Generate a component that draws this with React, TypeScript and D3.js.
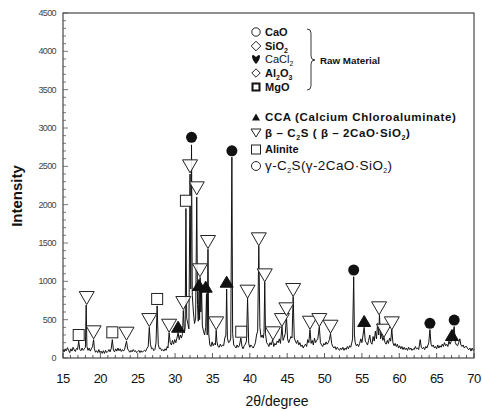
import React from "react";
import * as d3 from "d3";

// XRD pattern: [2θ, intensity]
const spectrum: [number, number][] = [
  [15.0,110],[15.15,80],[15.3,120],[15.45,95],[15.6,135],[15.75,100],[15.9,70],[16.05,120],[16.2,90],[16.35,140],[16.5,105],[16.65,85],[16.8,125],[16.95,110],[17.1,220],[17.25,110],[17.4,95],[17.55,130],[17.7,100],[17.85,120],[18.0,140],[18.1,690],[18.2,150],[18.35,100],[18.5,130],[18.65,90],[18.8,120],[18.95,150],[19.1,240],[19.2,120],[19.35,75],[19.5,95],[19.65,70],[19.8,110],[19.95,70],[20.1,90],[20.25,60],[20.4,95],[20.55,60],[20.7,100],[20.85,70],[21.0,85],[21.15,110],[21.3,80],[21.45,120],[21.6,240],[21.75,100],[21.9,80],[22.05,120],[22.2,90],[22.35,130],[22.5,95],[22.65,120],[22.8,85],[22.95,110],[23.1,90],[23.25,115],[23.5,220],[23.65,120],[23.8,95],[23.95,75],[24.1,100],[24.25,80],[24.4,110],[24.55,85],[24.7,95],[24.85,70],[25.0,85],[25.15,100],[25.3,70],[25.45,95],[25.6,75],[25.75,90],[25.9,100],[26.05,85],[26.2,120],[26.4,150],[26.55,400],[26.7,180],[26.85,120],[27.0,130],[27.15,95],[27.3,110],[27.45,200],[27.6,680],[27.75,180],[27.9,120],[28.05,130],[28.2,95],[28.35,110],[28.5,90],[28.65,120],[28.8,100],[28.95,150],[29.05,130],[29.2,330],[29.35,200],[29.5,170],[29.65,230],[29.8,180],[29.95,240],[30.1,200],[30.25,260],[30.4,330],[30.55,240],[30.7,300],[30.85,260],[31.0,320],[31.1,620],[31.25,330],[31.35,400],[31.45,1950],[31.55,520],[31.7,450],[31.85,380],[32.0,2400],[32.1,900],[32.2,2780],[32.3,820],[32.45,600],[32.6,450],[32.75,520],[32.9,2100],[33.0,700],[33.1,480],[33.2,870],[33.28,500],[33.35,1050],[33.45,600],[33.55,880],[33.65,420],[33.8,350],[33.95,300],[34.1,400],[34.2,840],[34.3,300],[34.4,1420],[34.5,320],[34.65,170],[34.8,150],[34.95,210],[35.1,160],[35.25,190],[35.4,170],[35.5,360],[35.6,210],[35.75,150],[35.9,140],[36.05,180],[36.2,150],[36.35,170],[36.5,160],[36.65,260],[36.8,300],[36.9,900],[37.0,260],[37.15,200],[37.3,210],[37.45,260],[37.6,2620],[37.7,320],[37.85,170],[38.0,150],[38.15,130],[38.3,170],[38.45,140],[38.6,160],[38.8,260],[38.95,150],[39.1,120],[39.25,160],[39.4,180],[39.55,220],[39.7,780],[39.85,190],[40.0,140],[40.15,170],[40.3,150],[40.45,130],[40.6,160],[40.75,200],[40.9,300],[41.05,350],[41.2,1460],[41.35,400],[41.5,270],[41.65,300],[41.8,260],[41.9,330],[42.0,990],[42.1,320],[42.25,200],[42.4,180],[42.55,150],[42.7,200],[42.85,170],[43.06,240],[43.2,150],[43.35,190],[43.5,170],[43.65,220],[43.8,200],[43.95,250],[44.1,190],[44.3,410],[44.45,230],[44.6,270],[44.75,320],[44.9,550],[45.05,250],[45.2,200],[45.35,240],[45.5,280],[45.65,260],[45.8,800],[45.95,260],[46.1,220],[46.25,190],[46.4,230],[46.55,170],[46.7,200],[46.85,150],[47.0,170],[47.15,130],[47.3,160],[47.45,180],[47.6,150],[47.75,240],[47.9,200],[48.05,370],[48.2,190],[48.35,230],[48.5,170],[48.65,260],[48.8,200],[48.95,230],[49.1,250],[49.3,410],[49.45,200],[49.6,170],[49.75,150],[49.9,190],[50.05,170],[50.2,210],[50.35,180],[50.5,200],[50.65,240],[50.8,320],[50.95,190],[51.1,150],[51.25,130],[51.4,150],[51.55,110],[51.7,140],[51.85,120],[52.0,100],[52.15,130],[52.3,110],[52.45,140],[52.6,100],[52.75,130],[52.9,110],[53.05,150],[53.2,120],[53.35,160],[53.5,140],[53.65,200],[53.75,250],[53.9,1060],[54.0,300],[54.1,200],[54.25,160],[54.4,180],[54.55,150],[54.7,190],[54.85,250],[55.0,200],[55.15,300],[55.3,400],[55.45,220],[55.6,200],[55.75,170],[55.9,230],[56.05,300],[56.2,200],[56.35,180],[56.5,280],[56.65,220],[56.8,350],[56.95,250],[57.1,450],[57.25,300],[57.35,560],[57.5,250],[57.65,320],[57.8,230],[57.95,270],[58.1,200],[58.25,180],[58.4,230],[58.55,190],[58.7,260],[58.85,220],[59.0,370],[59.15,200],[59.3,160],[59.45,190],[59.6,150],[59.75,180],[59.9,130],[60.05,160],[60.2,120],[60.35,150],[60.5,110],[60.65,140],[60.8,110],[60.95,130],[61.1,100],[61.25,140],[61.4,110],[61.55,130],[61.7,100],[61.85,120],[62.0,110],[62.15,150],[62.3,120],[62.45,130],[62.6,110],[62.8,240],[62.95,140],[63.1,120],[63.25,140],[63.4,110],[63.55,150],[63.7,130],[63.85,170],[63.95,200],[64.1,370],[64.25,180],[64.4,150],[64.55,170],[64.7,130],[64.85,150],[65.0,120],[65.15,170],[65.3,130],[65.45,160],[65.6,140],[65.75,180],[65.9,150],[66.05,200],[66.2,160],[66.35,180],[66.5,150],[66.65,220],[66.8,180],[67.0,230],[67.15,300],[67.35,410],[67.5,200],[67.65,170],[67.8,160],[67.95,200],[68.1,250],[68.25,170],[68.4,150],[68.55,170],[68.7,130],[68.85,150],[69.0,150],[69.15,120],[69.3,110],[69.45,130],[69.6,90],[69.75,130],[69.9,100],[70.0,110]
];

// Marker positions [2θ, intensity at marker centre]
const betaC2S: [number, number][] = [
  [18.17,782],[19.1,335],[23.5,317],[26.55,495],[29.2,421],[31.1,717],[32.0,2500],[32.9,2213],[33.33,1144],[34.4,1513],[35.5,452],[39.7,865],[41.2,1548],[42.0,1078],[43.1,322],[44.3,495],[44.9,635],[45.8,887],[48.05,460],[49.3,495],[50.8,408],[57.3,648],[57.95,356],[59.0,452]
];
const ccaPts: [number, number][] = [
  [30.4,408],[33.2,952],[34.1,930],[36.9,995],[55.3,483],[67.05,300]
];
const alinitePts: [number, number][] = [
  [17.1,300],[21.6,335],[27.6,770],[31.45,2051],[38.85,343]
];
const circlePts: [number, number][] = [
  [32.2,2878],[37.6,2703],[53.9,1148],[64.1,452],[67.35,495]
];

const xTicks = [15,20,25,30,35,40,45,50,55,60,65,70];
const yTicks = [0,500,1000,1500,2000,2500,3000,3500,4000,4500];

const W = 482, H = 411;
const L = 63, R = 474, T = 13, B = 358;

export default function App() {
  const x = d3.scaleLinear().domain([15, 70]).range([L, R]);
  const y = d3.scaleLinear().domain([0, 4500]).range([B, T]);
  const line = d3.line<[number, number]>().x(d => x(d[0])).y(d => y(d[1]));
  const minorX = d3.range(15, 71, 1);
  const minorY = d3.range(0, 4501, 100);
  const font = "Liberation Sans, Arial, sans-serif";

  const triDown = (cx: number, cy: number, w: number, h: number) =>
    `M${cx - w / 2},${cy - h / 2}L${cx + w / 2},${cy - h / 2}L${cx},${cy + h / 2}Z`;
  const triUp = (cx: number, cy: number, w: number, h: number) =>
    `M${cx - w / 2},${cy + h / 2}L${cx + w / 2},${cy + h / 2}L${cx},${cy - h / 2}Z`;
  const diamond = (cx: number, cy: number, r: number) =>
    `M${cx},${cy - r}L${cx + r},${cy}L${cx},${cy + r}L${cx - r},${cy}Z`;

  const sub = (s: string) => <tspan fontSize="7" dy="2.5">{s}</tspan>;

  return (
    <svg width={W} height={H} style={{ position: "absolute", left: 0, top: 0, background: "#fff" }} fontFamily={font}>
      <rect x={0} y={0} width={W} height={H} fill="#fff" />
      {/* frame */}
      <rect x={L} y={T} width={R - L} height={B - T} fill="none" stroke="#222" strokeWidth={1} />
      {/* x ticks */}
      {minorX.map(v => (
        <line key={"mx" + v} x1={x(v)} x2={x(v)} y1={B} y2={B - (v % 5 === 0 ? 5 : 3)} stroke="#333" strokeWidth={0.8} />
      ))}
      {minorY.map(v => (
        <line key={"my" + v} x1={L} x2={L + (v % 500 === 0 ? 5 : 3)} y1={y(v)} y2={y(v)} stroke="#555" strokeWidth={0.8} />
      ))}
      {xTicks.map(v => (
        <text key={"xt" + v} x={x(v)} y={383} fontSize={13} textAnchor="middle" fill="#111" letterSpacing={-0.5}>{v}</text>
      ))}
      {yTicks.map(v => (
        <text key={"yt" + v} x={56} y={y(v) + 3} fontSize={9} textAnchor="end" fill="#444" letterSpacing={-0.6}>{v}</text>
      ))}
      <text x={277} y={406} fontSize={14} textAnchor="middle" fill="#111">2θ/degree</text>
      <text transform="translate(22,196) rotate(-90)" fontSize={15} fontWeight="bold" textAnchor="middle" fill="#111">Intensity</text>

      {/* spectrum */}
      <path d={line(spectrum) || ""} fill="none" stroke="#111" strokeWidth={1} />

      {/* markers */}
      {betaC2S.map((d, i) => (
        <path key={"b" + i} d={triDown(x(d[0]), y(d[1]), 15, 13)} fill="#fff" fillOpacity={0.9} stroke="#222" strokeWidth={1} />
      ))}
      {alinitePts.map((d, i) => (
        <rect key={"a" + i} x={x(d[0]) - 5.5} y={y(d[1]) - 5.5} width={11} height={11} fill="#fff" stroke="#222" strokeWidth={1} />
      ))}
      {ccaPts.map((d, i) => (
        <path key={"c" + i} d={triUp(x(d[0]), y(d[1]), 13, 11)} fill="#111" stroke="#111" strokeWidth={1} />
      ))}
      {circlePts.map((d, i) => (
        <circle key={"o" + i} cx={x(d[0])} cy={y(d[1])} r={5.5} fill="#111" />
      ))}

      {/* legend */}
      <g fill="#111" fontSize={11} fontWeight="bold">
        <circle cx={256} cy={32} r={4.2} fill="none" stroke="#222" strokeWidth={1} />
        <text x={265} y={36}>CaO</text>
        <path d={diamond(256, 46, 4.8)} fill="none" stroke="#222" strokeWidth={1} />
        <text x={265} y={50}>SiO{sub("2")}</text>
        <path d="M252,56 Q252,55 253.5,55 L256,57 L258.5,55 Q260,55 260,56 Q260,60 256,64 Q252,60 252,56Z" fill="#111" />
        <text x={265} y={63} fontWeight="normal">CaCl{sub("2")}</text>
        <path d={diamond(256, 73, 4.2)} fill="none" stroke="#222" strokeWidth={1} />
        <text x={265} y={77}>Al{sub("2")}<tspan dy="-2.5">O</tspan>{sub("3")}</text>
        <rect x={252.5} y={83.5} width={7} height={7} fill="none" stroke="#111" strokeWidth={2} />
        <text x={265} y={91}>MgO</text>
        {/* brace */}
        <path d="M307,29 Q311,29 311,33 L311,56 Q311,60 315,60 Q311,60 311,64 L311,86 Q311,90 307,90" fill="none" stroke="#222" strokeWidth={0.9} />
        <text x={320} y={64} fontSize={9.8}>Raw Material</text>

        <path d={triUp(256, 117, 8, 7)} fill="#111" />
        <text x={265} y={121} fontSize={11.5} letterSpacing={0.6}>CCA (Calcium Chloroaluminate)</text>
        <path d={triDown(256, 133, 10, 8)} fill="none" stroke="#222" strokeWidth={1} />
        <text x={265} y={137} fontSize={11.5} letterSpacing={0.6}>β – C{sub("2")}<tspan dy="-2.5">S ( β – 2CaO·SiO</tspan>{sub("2")}<tspan dy="-2.5">)</tspan></text>
        <rect x={251.5} y={145} width={9} height={9} fill="none" stroke="#222" strokeWidth={1} />
        <text x={265} y={153}>Alinite</text>
        <circle cx={256} cy={166} r={4.5} fill="none" stroke="#222" strokeWidth={1} />
        <text x={265} y={170} fontSize={13.5} letterSpacing={0.4} fontWeight="normal">γ-C{sub("2")}<tspan dy="-2.5">S(γ-2CaO·SiO</tspan>{sub("2")}<tspan dy="-2.5">)</tspan></text>
      </g>
    </svg>
  );
}
